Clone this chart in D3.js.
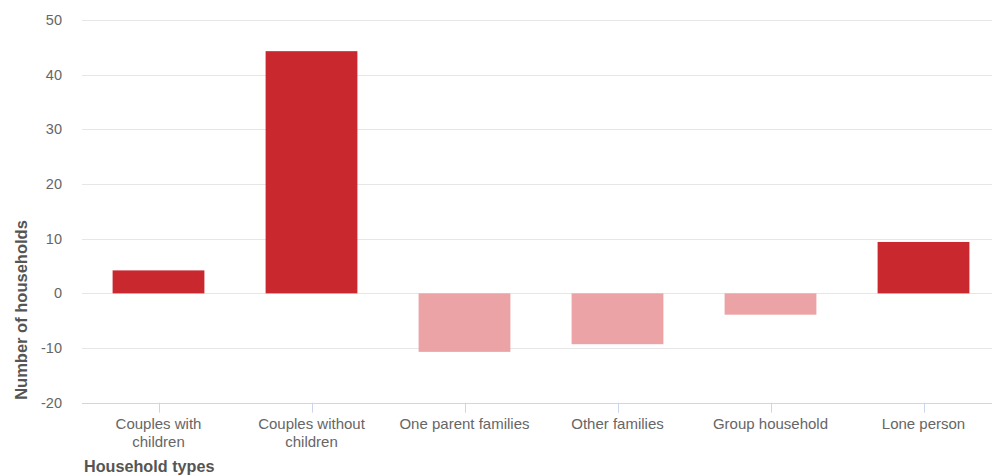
<!DOCTYPE html>
<html><head><meta charset="utf-8">
<script src="https://cdn.jsdelivr.net/npm/d3@7"></script>
<style>body{margin:0;background:#fff;}svg{display:block;font-family:"Liberation Sans",Arial,sans-serif;}</style>
</head><body>
<svg id="c" width="992" height="475"></svg>
<script>
const categories = ["Couples with children","Couples without children","One parent families","Other families","Group household","Lone person"];
const labelLines = [["Couples with","children"],["Couples without","children"],["One parent families"],["Other families"],["Group household"],["Lone person"]];
const values = [4.2, 44.3, -10.7, -9.3, -3.9, 9.4];
const yTicks = [-20,-10,0,10,20,30,40,50];
const yTitle = "Number of households";
const xTitle = "Household types";

(function(){
const svg = d3.select("#c");
const pLeft = 82, pRight = 1000, pTop = 20, pBottom = 402.7;
const x = d3.scaleBand().domain(categories).range([pLeft, pRight]).paddingInner(0.4).paddingOuter(0.2);
const y = d3.scaleLinear().domain([-20, 50]).range([pBottom, pTop]);

svg.append("g").selectAll("line").data(yTicks.filter(d=>d!==-20)).join("line")
  .attr("x1", pLeft).attr("x2", 992).attr("y1", d=>Math.round(y(d))+0.5).attr("y2", d=>Math.round(y(d))+0.5)
  .attr("stroke", "#e6e6e6").attr("stroke-width", 1);

svg.append("g").selectAll("text").data(yTicks).join("text")
  .attr("x", 62).attr("y", d=>y(d)).attr("dy", "0.35em").attr("text-anchor","end")
  .attr("fill","#666").attr("font-size", 14.5).text(d=>d);

svg.append("g").selectAll("rect").data(values).join("rect")
  .attr("x", (d,i)=>x(categories[i])).attr("width", x.bandwidth())
  .attr("y", d=>y(Math.max(0,d))).attr("height", d=>Math.abs(y(d)-y(0)))
  .attr("fill", d=> d>=0 ? "#c8282e" : "#eba3a6");

svg.append("line").attr("x1", pLeft).attr("x2", 992).attr("y1", Math.round(pBottom)+0.5).attr("y2", Math.round(pBottom)+0.5)
  .attr("stroke","#ccd6eb");
svg.append("g").selectAll("line").data(categories).join("line")
  .attr("x1", d=>Math.round(x(d)+x.bandwidth()/2)+0.5).attr("x2", d=>Math.round(x(d)+x.bandwidth()/2)+0.5)
  .attr("y1", pBottom).attr("y2", pBottom+10).attr("stroke","#ccd6eb");

const xl = svg.append("g").selectAll("text").data(categories).join("text")
  .attr("x", d=>x(d)+x.bandwidth()/2).attr("y", 428.5).attr("text-anchor","middle")
  .attr("fill","#666").attr("font-size", 15);
xl.each(function(d,i){
  const t = d3.select(this);
  labelLines[i].forEach((ln,j)=>{
    t.append("tspan").attr("x", x(d)+x.bandwidth()/2).attr("dy", j===0?0:18).text(ln);
  });
});

svg.append("text").attr("x", 84).attr("y", 472).attr("fill","#555").attr("font-size", 16.2).attr("font-weight","bold").text(xTitle);
svg.append("text").attr("transform", `translate(27,310) rotate(-90)`).attr("text-anchor","middle")
  .attr("fill","#555").attr("font-size", 16.5).attr("font-weight","bold").text(yTitle);
})();
</script>
</body></html>
